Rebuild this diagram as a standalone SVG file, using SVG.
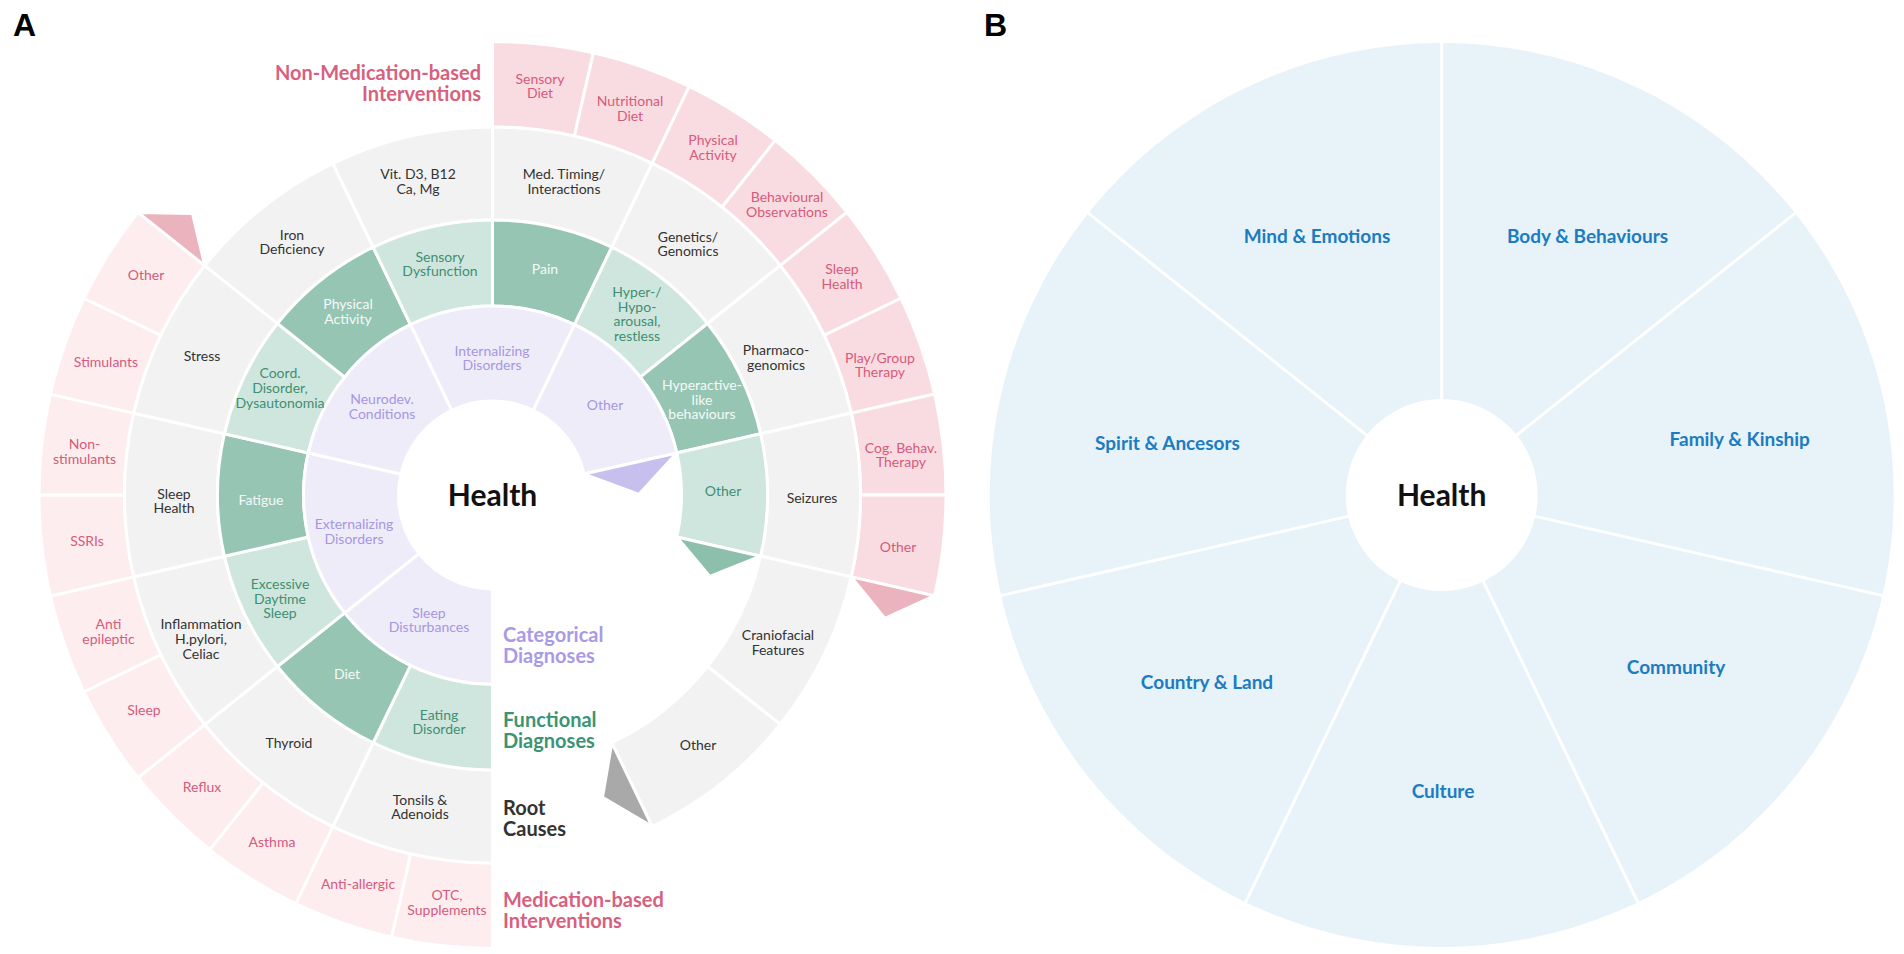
<svg xmlns="http://www.w3.org/2000/svg" xmlns:xlink="http://www.w3.org/1999/xlink" width="1904" height="954" viewBox="0 0 1904 954">
<style>
.pn{fill:#f9dce1}.pm{fill:#fdedef}.g{fill:#f2f2f2}.gl{fill:#cfe6de}.gd{fill:#97c5b4}.lv{fill:#efecfa}
.tpP{fill:#ebb3bd}.tgG{fill:#a9a9a9}.tnN{fill:#8dbfad}.tlL{fill:#c7bfee}
text.l{font-family:Lato,"Noto Sans",sans-serif;font-size:14px;text-anchor:middle}
.tp{fill:#d65a7b}.tg{fill:#333333}.tn{fill:#3f8f72}.tw{fill:#f4fbf8}.tl{fill:#a597e2}
text.h{font-family:Lato,"Noto Sans",sans-serif;font-weight:700;font-size:20px}
text.b{font-family:Lato,"Noto Sans",sans-serif;font-weight:700;font-size:19px;fill:#1b7cc1;text-anchor:middle}
text.c{font-family:Lato,"Noto Sans",sans-serif;font-weight:700;font-size:30px;fill:#111;text-anchor:middle}
text.p{font-family:"Liberation Sans",Arial,sans-serif;font-weight:700;font-size:32px;fill:#000}
</style>
<defs>
<path id="pk1" stroke="#fff" stroke-width="3" d="M0,-453.5 A453.5,453.5 0 0 1 100.91,-442.13 L81.89,-358.77 A368,368 0 0 0 0,-368Z"/>
<path id="gr2" stroke="#fff" stroke-width="3" d="M0,-368 A368,368 0 0 1 159.67,-331.56 L119.32,-247.77 A275,275 0 0 0 0,-275Z"/>
<path id="gn2" stroke="#fff" stroke-width="3" d="M0,-275 A275,275 0 0 1 119.32,-247.77 L82.00,-170.28 A189,189 0 0 0 0,-189Z"/>
<path id="lv4" stroke="#fff" stroke-width="3" d="M0,-189 A189,189 0 0 1 147.77,-117.84 L73.49,-58.61 A94,94 0 0 0 0,-94Z"/>
<path id="tP" stroke="#fff" stroke-width="3" d="M0,-368 L0,-453 L33,-410Z"/>
<path id="tG" stroke="#fff" stroke-width="3" d="M0,-275 L0,-368 L32,-320Z"/>
<path id="tN" stroke="#fff" stroke-width="3" d="M0,-189 L0,-275 L31,-230Z"/>
<path id="tL" stroke="#fff" stroke-width="3" d="M0,-94 L0,-189 L32,-143Z"/>
</defs>
<rect width="1904" height="954" fill="#fff"/>
<text class="p" x="13" y="36">A</text>
<text class="p" x="984" y="36">B</text>

<g id="panelA">
<g id="rings" transform="translate(492.5,495)">
<g id="shape-nonmed">
<use xlink:href="#pk1" class="pn" transform="rotate(0)"/>
<use xlink:href="#pk1" class="pn" transform="rotate(12.857)"/>
<use xlink:href="#pk1" class="pn" transform="rotate(25.714)"/>
<use xlink:href="#pk1" class="pn" transform="rotate(38.571)"/>
<use xlink:href="#pk1" class="pn" transform="rotate(51.429)"/>
<use xlink:href="#pk1" class="pn" transform="rotate(64.286)"/>
<use xlink:href="#pk1" class="pn" transform="rotate(77.143)"/>
<use xlink:href="#pk1" class="pn" transform="rotate(90)"/>
<use xlink:href="#tP" class="tpP" transform="rotate(102.857)"/>
</g>
<g id="shape-med">
<use xlink:href="#pk1" class="pm" transform="rotate(180)"/>
<use xlink:href="#pk1" class="pm" transform="rotate(192.857)"/>
<use xlink:href="#pk1" class="pm" transform="rotate(205.714)"/>
<use xlink:href="#pk1" class="pm" transform="rotate(218.571)"/>
<use xlink:href="#pk1" class="pm" transform="rotate(231.429)"/>
<use xlink:href="#pk1" class="pm" transform="rotate(244.286)"/>
<use xlink:href="#pk1" class="pm" transform="rotate(257.143)"/>
<use xlink:href="#pk1" class="pm" transform="rotate(270)"/>
<use xlink:href="#pk1" class="pm" transform="rotate(282.857)"/>
<use xlink:href="#pk1" class="pm" transform="rotate(295.714)"/>
<use xlink:href="#tP" class="tpP" transform="rotate(308.571)"/>
</g>
<g id="shape-root">
<use xlink:href="#gr2" class="g" transform="rotate(0)"/>
<use xlink:href="#gr2" class="g" transform="rotate(25.714)"/>
<use xlink:href="#gr2" class="g" transform="rotate(51.429)"/>
<use xlink:href="#gr2" class="g" transform="rotate(77.143)"/>
<use xlink:href="#gr2" class="g" transform="rotate(102.857)"/>
<use xlink:href="#gr2" class="g" transform="rotate(128.571)"/>
<use xlink:href="#tG" class="tgG" transform="rotate(154.286)"/>
<use xlink:href="#gr2" class="g" transform="rotate(180)"/>
<use xlink:href="#gr2" class="g" transform="rotate(205.714)"/>
<use xlink:href="#gr2" class="g" transform="rotate(231.429)"/>
<use xlink:href="#gr2" class="g" transform="rotate(257.143)"/>
<use xlink:href="#gr2" class="g" transform="rotate(282.857)"/>
<use xlink:href="#gr2" class="g" transform="rotate(308.571)"/>
<use xlink:href="#gr2" class="g" transform="rotate(334.286)"/>
</g>
<g id="shape-functional">
<use xlink:href="#gn2" class="gd" transform="rotate(0)"/>
<use xlink:href="#gn2" class="gl" transform="rotate(25.714)"/>
<use xlink:href="#gn2" class="gd" transform="rotate(51.429)"/>
<use xlink:href="#gn2" class="gl" transform="rotate(77.143)"/>
<use xlink:href="#tN" class="tnN" transform="rotate(102.857)"/>
<use xlink:href="#gn2" class="gl" transform="rotate(180)"/>
<use xlink:href="#gn2" class="gd" transform="rotate(205.714)"/>
<use xlink:href="#gn2" class="gl" transform="rotate(231.429)"/>
<use xlink:href="#gn2" class="gd" transform="rotate(257.143)"/>
<use xlink:href="#gn2" class="gl" transform="rotate(282.857)"/>
<use xlink:href="#gn2" class="gd" transform="rotate(308.571)"/>
<use xlink:href="#gn2" class="gl" transform="rotate(334.286)"/>
</g>
<g id="shape-categorical">
<use xlink:href="#lv4" class="lv" transform="rotate(-25.714)"/>
<use xlink:href="#lv4" class="lv" transform="rotate(25.714)"/>
<use xlink:href="#tL" class="tlL" transform="rotate(77.143)"/>
<use xlink:href="#lv4" class="lv" transform="rotate(180)"/>
<use xlink:href="#lv4" class="lv" transform="rotate(231.429)"/>
<use xlink:href="#lv4" class="lv" transform="rotate(282.857)"/>
</g>
</g>

<g id="labels-nonmed">
<text class="l tp" x="540" y="84">Sensory<tspan x="540" dy="14">Diet</tspan></text>
<text class="l tp" x="630" y="105.5">Nutritional<tspan x="630" dy="15">Diet</tspan></text>
<text class="l tp" x="713" y="145">Physical<tspan x="713" dy="14.5">Activity</tspan></text>
<text class="l tp" x="787" y="201.5">Behavioural<tspan x="787" dy="15">Observations</tspan></text>
<text class="l tp" x="842" y="273.5">Sleep<tspan x="842" dy="15">Health</tspan></text>
<text class="l tp" x="880" y="362.5">Play/Group<tspan x="880" dy="14.5">Therapy</tspan></text>
<text class="l tp" x="901" y="452.5">Cog. Behav.<tspan x="901" dy="14.5">Therapy</tspan></text>
<text class="l tp" x="898" y="551.5">Other</text>
</g>
<g id="labels-med">
<text class="l tp" x="447" y="900">OTC,<tspan x="447" dy="15">Supplements</tspan></text>
<text class="l tp" x="358" y="888.5">Anti-allergic</text>
<text class="l tp" x="272" y="847">Asthma</text>
<text class="l tp" x="202" y="792">Reflux</text>
<text class="l tp" x="144" y="715">Sleep</text>
<text class="l tp" x="108.5" y="629">Anti<tspan x="108.5" dy="15">epileptic</tspan></text>
<text class="l tp" x="87" y="546">SSRIs</text>
<text class="l tp" x="84.5" y="449">Non-<tspan x="84.5" dy="14.7">stimulants</tspan></text>
<text class="l tp" x="106" y="367">Stimulants</text>
<text class="l tp" x="146" y="280">Other</text>
</g>
<g id="labels-root">
<text class="l tg" x="564" y="178.5">Med. Timing/<tspan x="564" dy="15">Interactions</tspan></text>
<text class="l tg" x="688" y="241.5">Genetics/<tspan x="688" dy="14">Genomics</tspan></text>
<text class="l tg" x="776" y="355">Pharmaco-<tspan x="776" dy="15">genomics</tspan></text>
<text class="l tg" x="812" y="502.5">Seizures</text>
<text class="l tg" x="778" y="640">Craniofacial<tspan x="778" dy="15">Features</tspan></text>
<text class="l tg" x="698" y="749.5">Other</text>
<text class="l tg" x="420" y="804.5">Tonsils &amp;<tspan x="420" dy="14.7">Adenoids</tspan></text>
<text class="l tg" x="289" y="747.5">Thyroid</text>
<text class="l tg" x="201" y="629">Inflammation<tspan x="201" dy="15">H.pylori,</tspan><tspan x="201" dy="15">Celiac</tspan></text>
<text class="l tg" x="174" y="498.5">Sleep<tspan x="174" dy="14">Health</tspan></text>
<text class="l tg" x="202" y="361">Stress</text>
<text class="l tg" x="292" y="240">Iron<tspan x="292" dy="14.3">Deficiency</tspan></text>
<text class="l tg" x="418" y="178.5">Vit. D3, B12<tspan x="418" dy="15">Ca, Mg</tspan></text>
</g>
<g id="labels-functional">
<text class="l tw" x="545" y="273.5">Pain</text>
<text class="l tn" x="637" y="296.7">Hyper-/<tspan x="637" dy="14.8">Hypo-</tspan><tspan x="637" dy="14.8">arousal,</tspan><tspan x="637" dy="14.8">restless</tspan></text>
<text class="l tw" x="702" y="390">Hyperactive-<tspan x="702" dy="14.7">like</tspan><tspan x="702" dy="14.7">behaviours</tspan></text>
<text class="l tn" x="723" y="496">Other</text>
<text class="l tn" x="439" y="720">Eating<tspan x="439" dy="14.3">Disorder</tspan></text>
<text class="l tw" x="347" y="678.5">Diet</text>
<text class="l tn" x="280" y="589">Excessive<tspan x="280" dy="14.7">Daytime</tspan><tspan x="280" dy="14.7">Sleep</tspan></text>
<text class="l tw" x="261" y="504.5">Fatigue</text>
<text class="l tn" x="280" y="377.7">Coord.<tspan x="280" dy="15.3">Disorder,</tspan><tspan x="280" dy="15.3">Dysautonomia</tspan></text>
<text class="l tw" x="348" y="309">Physical<tspan x="348" dy="15.3">Activity</tspan></text>
<text class="l tn" x="440" y="262">Sensory<tspan x="440" dy="14.3">Dysfunction</tspan></text>
</g>
<g id="labels-categorical">
<text class="l tl" x="492" y="356">Internalizing<tspan x="492" dy="13.5">Disorders</tspan></text>
<text class="l tl" x="605" y="410">Other</text>
<text class="l tl" x="429" y="617.5">Sleep<tspan x="429" dy="14.4">Disturbances</tspan></text>
<text class="l tl" x="354" y="529">Externalizing<tspan x="354" dy="15">Disorders</tspan></text>
<text class="l tl" x="382" y="403.5">Neurodev.<tspan x="382" dy="15">Conditions</tspan></text>
</g>
<g id="centerA"><text class="c" x="492.5" y="505.5">Health</text></g>
<g id="legend">
<text class="h" x="481" y="80" text-anchor="end" fill="#d85f7e">Non-Medication-based<tspan x="481" dy="21">Interventions</tspan></text>
<text class="h" x="503" y="641.5" fill="#a99ae6">Categorical<tspan x="503" dy="21">Diagnoses</tspan></text>
<text class="h" x="503" y="726.7" fill="#3b9473">Functional<tspan x="503" dy="21.3">Diagnoses</tspan></text>
<text class="h" x="503" y="815" fill="#333333">Root<tspan x="503" dy="21">Causes</tspan></text>
<text class="h" x="503" y="907.3" fill="#d85f7e">Medication-based<tspan x="503" dy="20.7">Interventions</tspan></text>
</g>
</g>

<g id="panelB">
<circle cx="1441.7" cy="495" r="452" fill="#e7f2f9"/>
<g id="connectors" stroke="#fff" stroke-width="3">
<line x1="1441.7" y1="495" x2="1441.7" y2="42"/>
<line x1="1441.7" y1="495" x2="1795.09" y2="213.18"/>
<line x1="1441.7" y1="495" x2="1882.37" y2="595.58"/>
<line x1="1441.7" y1="495" x2="1637.81" y2="902.24"/>
<line x1="1441.7" y1="495" x2="1245.59" y2="902.24"/>
<line x1="1441.7" y1="495" x2="1001.03" y2="595.58"/>
<line x1="1441.7" y1="495" x2="1088.31" y2="213.18"/>
</g>
<circle cx="1441.7" cy="495" r="96" fill="#fff"/>
<g id="mind"><text class="b" x="1317" y="243.3">Mind &amp; Emotions</text></g>
<g id="body"><text class="b" x="1587.5" y="243.3">Body &amp; Behaviours</text></g>
<g id="family"><text class="b" x="1739.7" y="445.5">Family &amp; Kinship</text></g>
<g id="spirit"><text class="b" x="1167.5" y="449.5">Spirit &amp; Ancesors</text></g>
<g id="country"><text class="b" x="1207" y="689">Country &amp; Land</text></g>
<g id="community"><text class="b" x="1676" y="673.5">Community</text></g>
<g id="culture"><text class="b" x="1443" y="797.5">Culture</text></g>
<g id="centerB"><text class="c" x="1441.7" y="505.5">Health</text></g>
</g>
</svg>
